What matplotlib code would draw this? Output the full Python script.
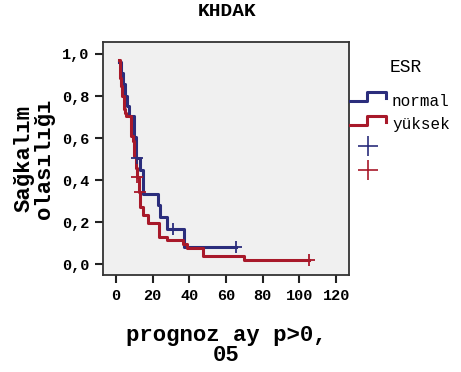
import numpy as np
import matplotlib
matplotlib.use('Agg')
import matplotlib.pyplot as plt
from matplotlib.lines import Line2D

plt.rcParams['font.family'] = ['Liberation Mono', 'DejaVu Sans Mono']

## data
normal_t = [1.5, 2.9, 3.8, 5.0, 5.9, 7.4, 10.1, 11.2, 13.3, 14.6, 23.2, 24.2, 28.0, 37.0, 65.2]
normal_s = [0.96, 0.91, 0.855, 0.80, 0.755, 0.706, 0.605, 0.505, 0.447, 0.335, 0.28, 0.225, 0.167, 0.084, 0.084]
normal_cens_t = [11.6, 31.0, 65.2]
normal_cens_s = [0.505, 0.167, 0.084]

yuksek_t = [1.5, 2.4, 3.0, 3.5, 4.2, 4.9, 5.6, 8.1, 9.1, 10.0, 10.9, 11.3, 12.5, 13.3, 15.0, 17.7,
            23.7, 27.7, 36.4, 38.6, 47.6, 69.7, 105.0]
yuksek_s = [0.97, 0.886, 0.846, 0.80, 0.737, 0.72, 0.705, 0.612, 0.584, 0.517, 0.457, 0.417, 0.346,
            0.274, 0.235, 0.195, 0.131, 0.116, 0.097, 0.076, 0.04, 0.02, 0.02]
yuksek_cens_t = [11.6, 12.9, 105.0]
yuksek_cens_s = [0.417, 0.346, 0.02]

xticks = [0, 20, 40, 60, 80, 100, 120]
yticks = [0.0, 0.2, 0.4, 0.6, 0.8, 1.0]
ytick_labels = ['0,0', '0,2', '0,4', '0,6', '0,8', '1,0']

blue = '#2b2d7c'
red = '#a8192a'

fig = plt.figure(figsize=(4.61, 3.72), dpi=100)
ax = fig.add_axes([103/461, 1-275/372, 246/461, 233/372])
ax.set_facecolor('#f0f0f0')

ax.step(normal_t, normal_s, where='post', color=blue, lw=2.2)
ax.step(yuksek_t, yuksek_s, where='post', color=red, lw=2.2)
ax.plot(normal_cens_t, normal_cens_s, '+', color=blue, ms=9, mew=1.3)
ax.plot(yuksek_cens_t, yuksek_cens_s, '+', color=red, ms=9, mew=1.3)

ax.set_xlim(-7, 127)
ax.set_ylim(-0.051, 1.057)
ax.set_xticks(xticks)
ax.set_xticklabels([str(v) for v in xticks], fontsize=11, fontweight='bold')
ax.set_yticks(yticks)
ax.set_yticklabels(ytick_labels, fontsize=11, fontweight='bold')
ax.tick_params(direction='out', length=6, width=1.5, color='#222222', pad=4)
for sp in ax.spines.values():
    sp.set_color('#333333')
    sp.set_linewidth(1.3)

ax.set_xlabel('prognoz ay p>0,\n05', fontsize=16, fontweight='bold', linespacing=0.95, labelpad=16)
ax.set_ylabel('Sağkalım\nolasılığı', fontsize=16, fontweight='bold', linespacing=0.95, labelpad=5)
fig.text(227/461, 1-12/372, 'KHDAK', ha='center', va='center', fontsize=14, fontweight='bold')

## legend drawn by hand in pixel coords
lg = fig.add_axes([0, 0, 1, 1], facecolor='none')
lg.set_xlim(0, 461)
lg.set_ylim(372, 0)
lg.axis('off')
lg.text(406, 67, 'ESR', ha='center', va='center', fontsize=13)
for yy, col, lab in [(101, blue, 'normal'), (125, red, 'yüksek')]:
    lg.add_line(Line2D([350, 367, 367, 386, 386], [yy, yy, yy-9, yy-9, yy-3], color=col, lw=2.2))
    lg.text(392, yy, lab, ha='left', va='center', fontsize=11.5)
lg.plot([368], [146], '+', color=blue, ms=14, mew=1.2)
lg.plot([368], [170], '+', color=red, ms=14, mew=1.2)

fig.savefig('out.png', dpi=100)
